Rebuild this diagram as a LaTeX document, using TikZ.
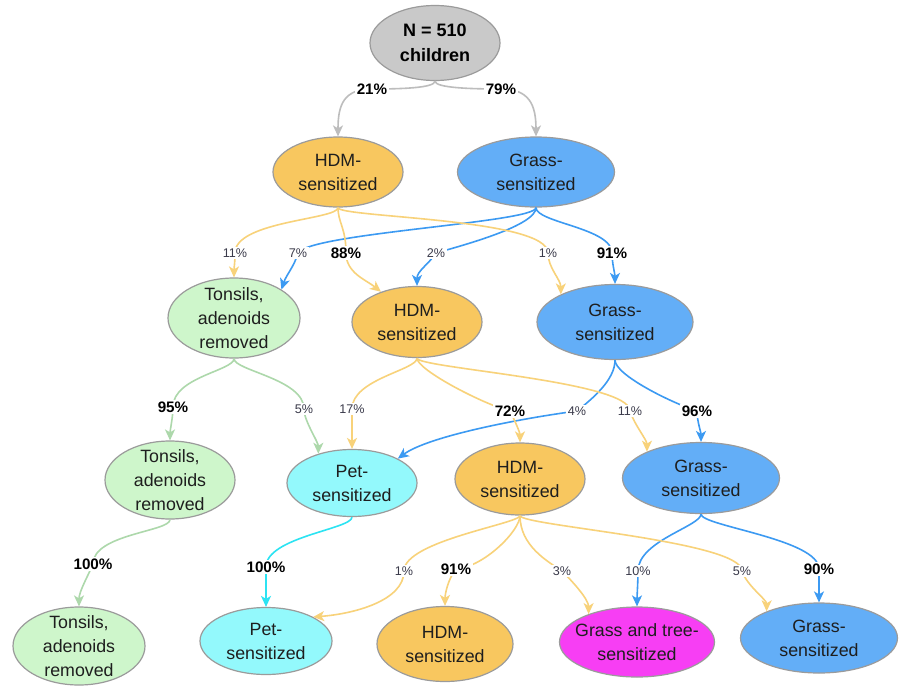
\documentclass[tikz,border=0pt]{standalone}
\usepackage{fontspec}
\setmainfont{Liberation Sans}
\usetikzlibrary{shapes.geometric,arrows.meta}
\definecolor{rootfill}{HTML}{C9C9C9}
\definecolor{hdmfill}{HTML}{F8C75F}
\definecolor{grfill}{HTML}{63AEF7}
\definecolor{tonfill}{HTML}{CEF6CB}
\definecolor{petfill}{HTML}{93F9FC}
\definecolor{gtfill}{HTML}{F73EF4}
\definecolor{bord}{HTML}{9B9B9B}
\definecolor{egray}{HTML}{BDBDBD}
\definecolor{ehdm}{HTML}{F8D27A}
\definecolor{egr}{HTML}{3C9AF2}
\definecolor{eton}{HTML}{ADD8AB}
\definecolor{epet}{HTML}{2CE3F2}
\definecolor{txtdark}{HTML}{1E1E1E}
\definecolor{lblreg}{HTML}{3A3A4A}
\tikzset{
  ell/.style={ellipse, draw=bord, line width=0.6pt, inner sep=0pt},
  ntext/.style={font=\fontsize{8.9}{12}\selectfont, text=txtdark, align=center},
  rtext/.style={font=\bfseries\fontsize{9}{12.5}\selectfont, text=black, align=center},
  conn/.style={line width=0.8pt, -{Stealth[length=5.5pt,width=5pt,inset=1.5pt]}},
  cgray/.style={conn, draw=egray},
  chdm/.style={conn, draw=ehdm},
  cgr/.style={conn, draw=egr},
  cton/.style={conn, draw=eton},
  cpet/.style={conn, draw=epet},
  lblr/.style={fill=white, inner sep=1pt, font=\fontsize{6.3}{7}\selectfont, text=lblreg},
  lblb/.style={fill=white, inner sep=1pt, font=\bfseries\fontsize{7.6}{9}\selectfont, text=black},
}
\begin{document}
\begin{tikzpicture}[x=0.5pt,y=-0.5pt]
\fill[white] (0,0) rectangle (900,686);
\useasboundingbox (0,0) rectangle (900,686);

% nodes
\node[ell, fill=rootfill, minimum width=65pt, minimum height=37.5pt, label={[rtext]center:N = 510\\children}] (root) at (435,43) {};
\node[ell, fill=hdmfill, minimum width=65pt, minimum height=35pt, label={[ntext]center:HDM-\\sensitized}] (hdm1) at (338,172) {};
\node[ell, fill=grfill, minimum width=78.5pt, minimum height=35pt, label={[ntext]center:Grass-\\sensitized}] (gr1) at (536,172) {};
\node[ell, fill=tonfill, minimum width=66pt, minimum height=40pt, label={[ntext]center:Tonsils,\\adenoids\\removed}] (ton1) at (234,318) {};
\node[ell, fill=hdmfill, minimum width=65pt, minimum height=35.5pt, label={[ntext]center:HDM-\\sensitized}] (hdm2) at (417,322) {};
\node[ell, fill=grfill, minimum width=78pt, minimum height=37.5pt, label={[ntext]center:Grass-\\sensitized}] (gr2) at (615,322) {};
\node[ell, fill=tonfill, minimum width=65pt, minimum height=39pt, label={[ntext]center:Tonsils,\\adenoids\\removed}] (ton2) at (170,480) {};
\node[ell, fill=petfill, minimum width=65pt, minimum height=33.5pt, label={[ntext]center:Pet-\\sensitized}] (pet1) at (352,483) {};
\node[ell, fill=hdmfill, minimum width=65pt, minimum height=36pt, label={[ntext]center:HDM-\\sensitized}] (hdm3) at (520,479) {};
\node[ell, fill=grfill, minimum width=78.5pt, minimum height=35.5pt, label={[ntext]center:Grass-\\sensitized}] (gr3) at (701,478) {};
\node[ell, fill=tonfill, minimum width=66pt, minimum height=39pt, label={[ntext]center:Tonsils,\\adenoids\\removed}] (ton3) at (79,646) {};
\node[ell, fill=petfill, minimum width=66pt, minimum height=33.5pt, label={[ntext]center:Pet-\\sensitized}] (pet2) at (266,641) {};
\node[ell, fill=hdmfill, minimum width=68pt, minimum height=37.5pt, label={[ntext]center:HDM-\\sensitized}] (hdm4) at (445,644) {};
\node[ell, fill=gtfill, minimum width=77.5pt, minimum height=35pt, label={[ntext]center:Grass and tree-\\sensitized}] (gt) at (637,642) {};
\node[ell, fill=grfill, minimum width=78.5pt, minimum height=35pt, label={[ntext]center:Grass-\\sensitized}] (gr4) at (819,638) {};

% label points
\coordinate (l1) at (372,89);
\coordinate (l2) at (501,89);
\coordinate (l3) at (235,253);
\coordinate (l4) at (298,253);
\coordinate (l5) at (346,253);
\coordinate (l6) at (436,253);
\coordinate (l7) at (548,253);
\coordinate (l8) at (612,253);
\coordinate (l9) at (173,407);
\coordinate (l10) at (304,409);
\coordinate (l11) at (352,409);
\coordinate (l12) at (577,411);
\coordinate (l13) at (510,411);
\coordinate (l14) at (630,411);
\coordinate (l15) at (697,411);
\coordinate (l16) at (93,564);
\coordinate (l17) at (266,567);
\coordinate (l18) at (404,571);
\coordinate (l19) at (456,569);
\coordinate (l20) at (562,571);
\coordinate (l21) at (638,571);
\coordinate (l22) at (742,571);
\coordinate (l23) at (819,569);

% connectors
\draw[cgray] (root.south) .. controls +(0,7) and +(28,0) .. (l1) .. controls +(-28,0) and +(0,-32) .. (hdm1.north);
\draw[cgray] (root.south) .. controls +(0,7) and +(-28,0) .. (l2) .. controls +(28,0) and +(0,-32) .. (gr1.north);

\draw[chdm] (hdm1.south) .. controls +(0,12) and +(0,-32) .. (l3) .. controls +(0,10) and +(0,-10) .. (ton1.north);
\draw[cgr] (gr1.south) .. controls +(0,15) and +(12,-20) .. (l4) .. controls +(-4,14) and +(5,-15) .. (ton1.31);
\draw[chdm] (hdm1.south) .. controls +(0,15) and +(0,-25) .. (l5) .. controls +(0,20) and +(-15,-12) .. (hdm2.140);
\draw[cgr] (gr1.south) .. controls +(0,18) and +(28,-8) .. (l6) .. controls +(-8,12) and +(0,-15) .. (hdm2.north);
\draw[chdm] (hdm1.south) .. controls +(0,10) and +(0,-35) .. (l7) .. controls +(0,15) and +(0,-15) .. (gr2.153);
\draw[cgr] (gr1.south) .. controls +(0,15) and +(0,-25) .. (l8) .. controls +(0,10) and +(0,-10) .. (gr2.north);

\draw[cton] (ton1.south) .. controls +(0,12) and +(0,-30) .. (l9) .. controls +(0,10) and +(0,-10) .. (ton2.north);
\draw[cton] (ton1.south) .. controls +(0,12) and +(0,-30) .. (l10) .. controls +(0,12) and +(0,-12) .. (pet1.139);
\draw[chdm] (hdm2.south) .. controls +(0,12) and +(0,-30) .. (l11) .. controls +(0,10) and +(0,-10) .. (pet1.north);
\draw[cgr] (gr2.south) .. controls +(0,20) and +(15,-12) .. (l12) .. controls +(-60,8) and +(30,-22) .. (pet1.28);
\draw[chdm] (hdm2.south) .. controls +(0,12) and +(-25,-6) .. (l13) .. controls +(5,10) and +(0,-10) .. (hdm3.north);
\draw[chdm] (hdm2.south) .. controls +(0,10) and +(0,-30) .. (l14) .. controls +(5,15) and +(0,-12) .. (gr3.154);
\draw[cgr] (gr2.south) .. controls +(0,15) and +(-25,-8) .. (l15) .. controls +(0,10) and +(0,-10) .. (gr3.north);

\draw[cton] (ton2.south) .. controls +(0,12) and +(0,-30) .. (l16) .. controls +(-5,12) and +(0,-15) .. (ton3.north);
\draw[cpet] (pet1.south) .. controls +(0,12) and +(0,-30) .. (l17) .. controls +(0,10) and +(0,-10) .. (pet2.north);
\draw[chdm] (hdm3.south) .. controls +(0,8) and +(0,-30) .. (l18) .. controls +(0,30) and +(40,-3) .. (pet2.27);
\draw[chdm] (hdm3.south) .. controls +(0,15) and +(28,-2) .. (l19) .. controls +(-8,10) and +(0,-12) .. (hdm4.north);
\draw[chdm] (hdm3.south) .. controls +(0,30) and +(-15,-10) .. (l20) .. controls +(10,10) and +(0,-15) .. (gt.150);
\draw[cgr] (gr3.south) .. controls +(0,12) and +(0,-30) .. (l21) .. controls +(0,10) and +(0,-10) .. (gt.north);
\draw[chdm] (hdm3.south) .. controls +(0,10) and +(0,-30) .. (l22) .. controls +(5,15) and +(0,-12) .. (gr4.153);
\draw[cgr] (gr3.south) .. controls +(0,12) and +(0,-30) .. (l23) .. controls +(0,10) and +(0,-10) .. (gr4.north);

% labels
\node[lblb] (t1) at (l1) {21\%};
\node[lblb] (t2) at (l2) {79\%};
\node[lblr] (t3) at (l3) {11\%};
\node[lblr] (t4) at (l4) {7\%};
\node[lblb] (t5) at (l5) {88\%};
\node[lblr] (t6) at (l6) {2\%};
\node[lblr] (t7) at (l7) {1\%};
\node[lblb] (t8) at (l8) {91\%};
\node[lblb] (t9) at (l9) {95\%};
\node[lblr] (t10) at (l10) {5\%};
\node[lblr] (t11) at (l11) {17\%};
\node[lblr] (t12) at (l12) {4\%};
\node[lblb] (t13) at (l13) {72\%};
\node[lblr] (t14) at (l14) {11\%};
\node[lblb] (t15) at (l15) {96\%};
\node[lblb] (t16) at (l16) {100\%};
\node[lblb] (t17) at (l17) {100\%};
\node[lblr] (t18) at (l18) {1\%};
\node[lblb] (t19) at (l19) {91\%};
\node[lblr] (t20) at (l20) {3\%};
\node[lblr] (t21) at (l21) {10\%};
\node[lblr] (t22) at (l22) {5\%};
\node[lblb] (t23) at (l23) {90\%};
\end{tikzpicture}
\end{document}
